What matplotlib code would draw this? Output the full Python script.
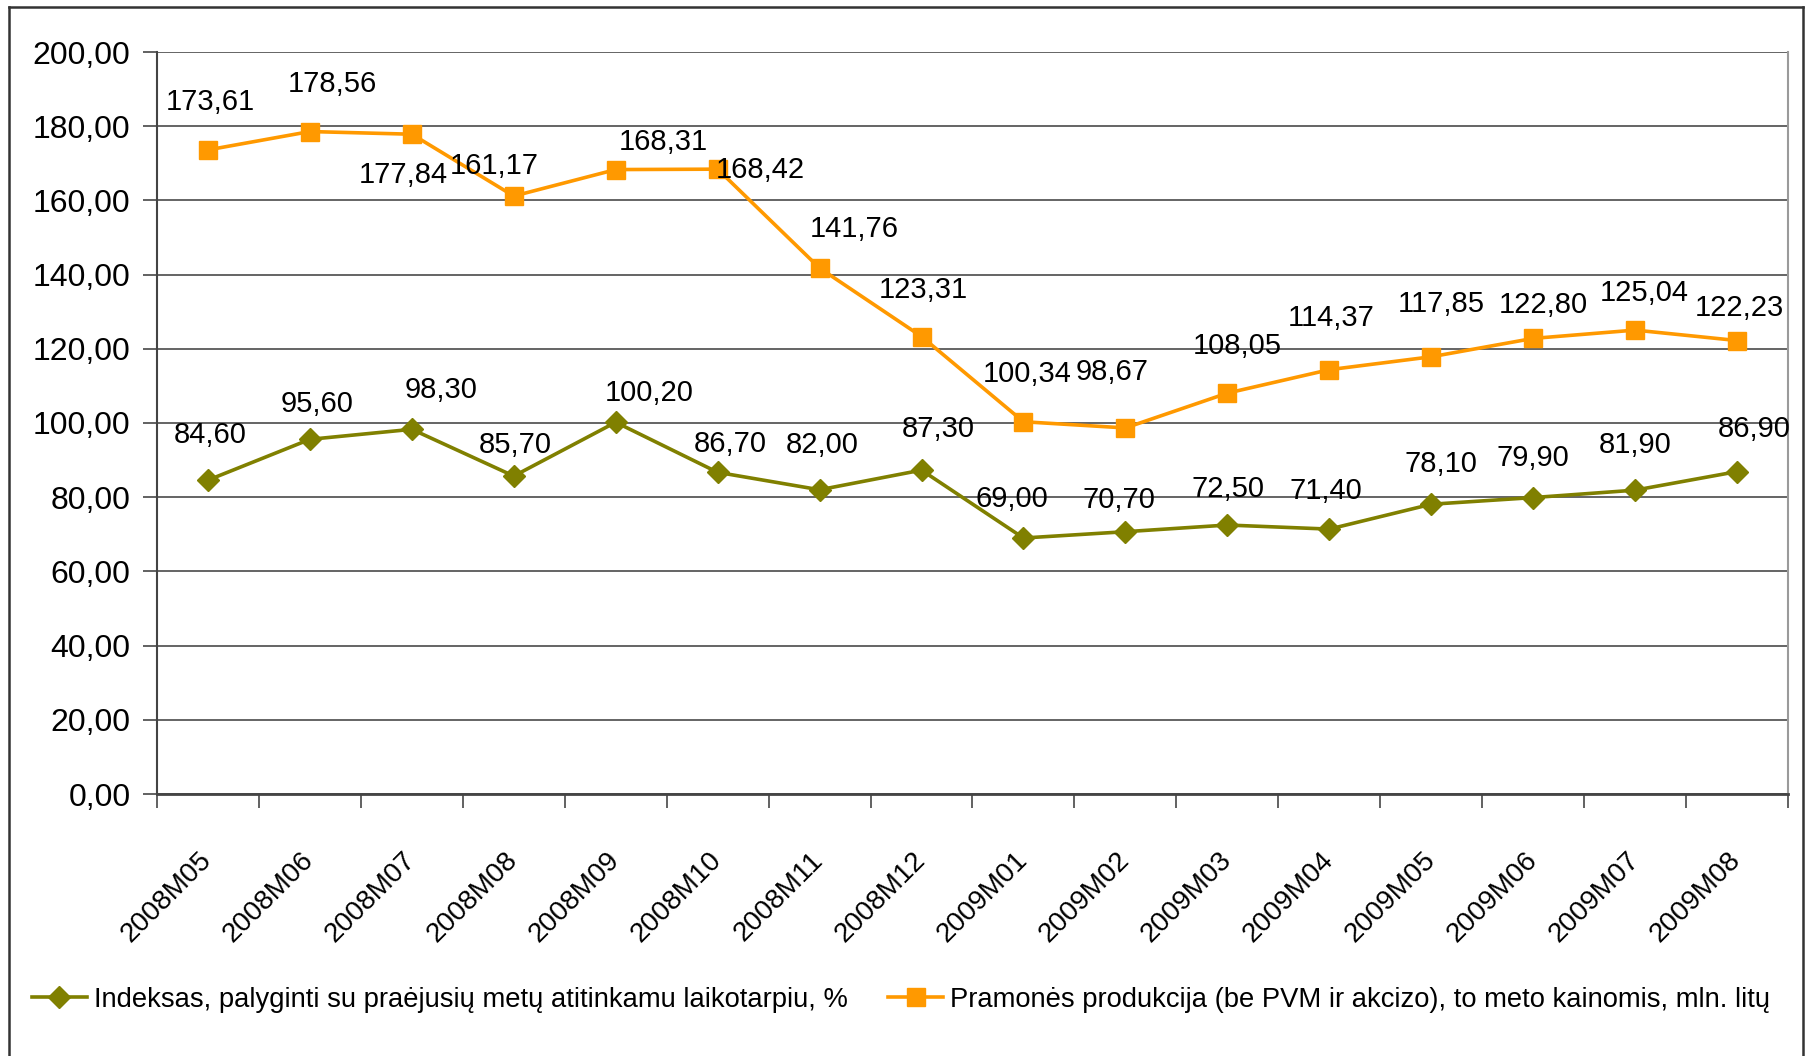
import numpy as np
import matplotlib
matplotlib.use("Agg")
import matplotlib.pyplot as plt
from matplotlib.lines import Line2D

# data
months = ["2008M05", "2008M06", "2008M07", "2008M08", "2008M09", "2008M10",
          "2008M11", "2008M12", "2009M01", "2009M02", "2009M03", "2009M04",
          "2009M05", "2009M06", "2009M07", "2009M08"]
index_vals = [84.60, 95.60, 98.30, 85.70, 100.20, 86.70, 82.00, 87.30,
              69.00, 70.70, 72.50, 71.40, 78.10, 79.90, 81.90, 86.90]
production_vals = [173.61, 178.56, 177.84, 161.17, 168.31, 168.42, 141.76, 123.31,
                   100.34, 98.67, 108.05, 114.37, 117.85, 122.80, 125.04, 122.23]
index_label = "Indeksas, palyginti su praėjusių metų atitinkamu laikotarpiu, %"
production_label = "Pramonės produkcija (be PVM ir akcizo), to meto kainomis, mln. litų"

# label offsets in pixels (dx, dy)
prod_offsets = [(2, 48), (22, 48), (-9, -41), (-20, 30), (48, 28), (43, -1),
                (35, 39), (2, 47), (4, 48), (-13, 56), (10, 47), (2, 52),
                (10, 53), (10, 33), (9, 37), (2, 33)]
index_offsets = [(2, 45), (7, 35), (29, 39), (1, 31), (33, 29), (13, 28),
                 (3, 45), (17, 41), (-12, 39), (-6, 32), (1, 36), (-3, 38),
                 (10, 40), (0, 40), (0, 45), (17, 43)]

OLIVE = "#808000"
ORANGE = "#FF9900"

plt.rcParams["font.family"] = ["Liberation Sans", "DejaVu Sans"]

fig = plt.figure(figsize=(18.07, 10.56), dpi=100)
ax = fig.add_axes([157 / 1807, 1 - 794 / 1056, (1788 - 157) / 1807, (794 - 52) / 1056])

x = np.arange(len(months))
ax.plot(x, index_vals, color=OLIVE, lw=2.6, marker="D", ms=11.5, zorder=3)
ax.plot(x, production_vals, color=ORANGE, lw=2.6, marker="s", ms=13, zorder=3)

def fmt(v):
    return f"{v:.2f}".replace(".", ",")

for xi, v, off in zip(x, production_vals, prod_offsets):
    ax.annotate(fmt(v), (xi, v), xytext=off, textcoords="offset pixels",
                ha="center", va="center", fontsize=21, color="black", zorder=4)
for xi, v, off in zip(x, index_vals, index_offsets):
    ax.annotate(fmt(v), (xi, v), xytext=off, textcoords="offset pixels",
                ha="center", va="center", fontsize=21, color="black", zorder=4)

ax.set_xlim(-0.5, len(months) - 0.5)
ax.set_ylim(0, 200)
yt = np.arange(0, 201, 20)
ax.set_yticks(yt)
ax.set_yticklabels([fmt(v) for v in yt], fontsize=23)
ax.yaxis.grid(True, color="#3a3a3a", lw=1.1)
ax.set_axisbelow(True)

# tick marks sit between categories, labels at the category centres
ax.set_xticks(np.arange(-0.5, len(months), 1.0))
ax.set_xticklabels([])
ax.set_xticks(x, minor=True)
ax.set_xticklabels(months, minor=True, rotation=45, ha="right", va="center",
                   rotation_mode="anchor", fontsize=20)
ax.tick_params(axis="x", which="minor", length=0, pad=45)
ax.tick_params(axis="x", which="major", length=10, width=1.3, color="#555555")
ax.tick_params(axis="y", length=10, width=1.3, color="#555555", pad=9)

ax.spines["top"].set_visible(False)
ax.spines["left"].set_color("#444444")
ax.spines["left"].set_linewidth(1.5)
ax.spines["bottom"].set_color("#444444")
ax.spines["bottom"].set_linewidth(2)
ax.spines["right"].set_color("#9a9a9a")
ax.spines["right"].set_linewidth(1.5)

handles = [
    Line2D([], [], color=OLIVE, lw=2.6, marker="D", ms=11.5),
    Line2D([], [], color=ORANGE, lw=2.6, marker="s", ms=13),
]
fig.legend(handles, [index_label, production_label], ncol=2, frameon=False,
           loc="center left", bbox_to_anchor=(32 / 1807, 1 - 1000 / 1056),
           prop={"size": 19.7},
           handlelength=2.0, handletextpad=0.25, columnspacing=1.5,
           borderaxespad=0, borderpad=0)

# outer chart border
border = dict(color="#333333", lw=1.8, transform=fig.transFigure)
fig.add_artist(Line2D([9 / 1807, 9 / 1807], [0, 1 - 7 / 1056], **border))
fig.add_artist(Line2D([9 / 1807, 1803 / 1807], [1 - 7 / 1056, 1 - 7 / 1056], **border))
fig.add_artist(Line2D([1803 / 1807, 1803 / 1807], [0, 1 - 7 / 1056], **border))

fig.savefig("out.png", dpi=100)
